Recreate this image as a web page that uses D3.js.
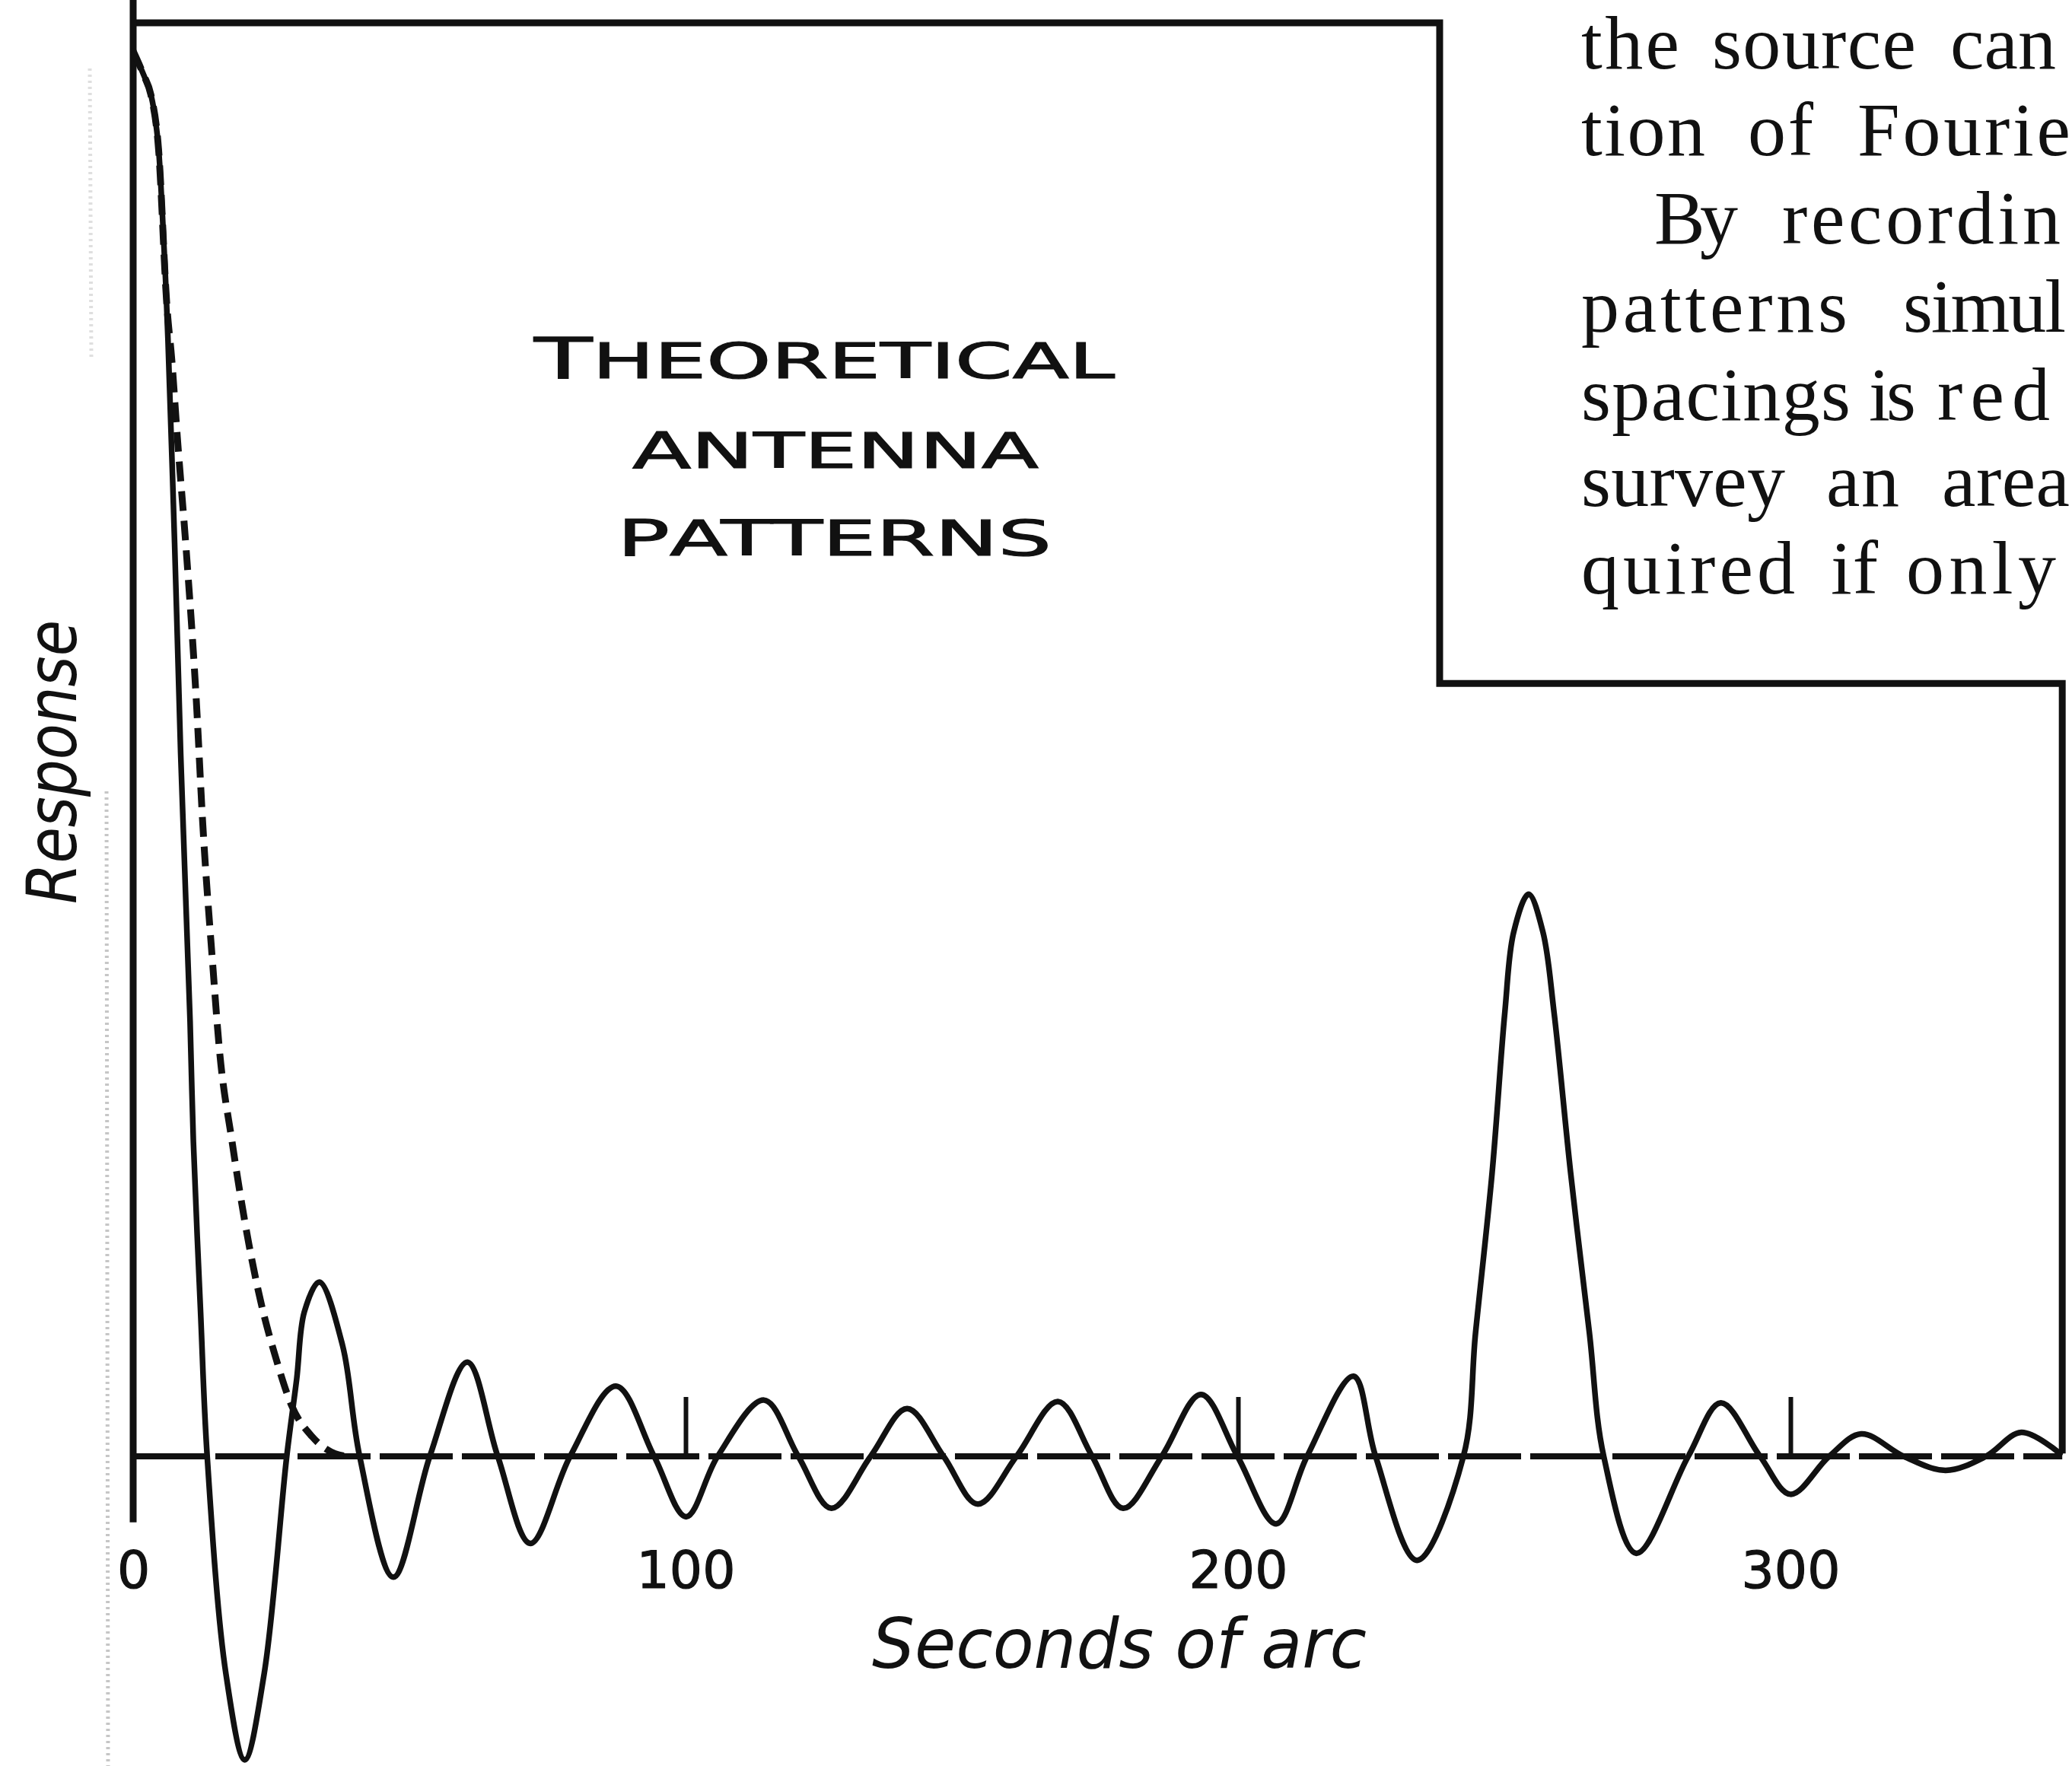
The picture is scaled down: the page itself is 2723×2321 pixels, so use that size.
<!DOCTYPE html>
<html>
<head>
<meta charset="utf-8">
<script src="https://cdn.jsdelivr.net/npm/d3@7"></script>
<style>
    body { margin: 0; background: #fff; }
    svg { display: block; background: #fff; }
    .curve { fill: none; stroke: #111; stroke-width: 7.5; stroke-linejoin: round; stroke-linecap: round; }
    .envelope { fill: none; stroke: #111; stroke-width: 9; stroke-dasharray: 26 13; }
    .frame { fill: none; stroke: #111; stroke-width: 9; }
    .baseline { stroke: #111; stroke-width: 8; stroke-dasharray: 96 12; }
    .ticks line { stroke: #111; stroke-width: 6; }
    .ticks text { fill: #111; stroke: #111; stroke-width: 1.2; font-family: 'DejaVu Sans', sans-serif; font-size: 68px; }
    .title { fill: #111; stroke: #111; stroke-width: 1.2; font-family: 'DejaVu Sans', sans-serif; font-size: 64px; }
    .axisTitle { fill: #111; font-family: 'DejaVu Sans', sans-serif; font-style: italic; font-size: 90px; }
    .para { fill: #111; font-family: 'Liberation Serif', serif; font-size: 100px; }
    .gutter { stroke: #999; stroke-width: 5; stroke-dasharray: 3 5; opacity: 0.55; }
</style>
</head>
<body>
<script>
'use strict';

// Solid curve: theoretical antenna response against seconds of arc
const solidAngle = [
    0, 0.8, 2.0, 3.2, 4.4, 5.2, 5.8, 6.3, 7.5, 8.6, 10.3, 10.9, 12.2, 13.4,
    16.8, 20.2, 23.7, 27.8,
    29.6, 31.0, 33.7, 37.9, 41.0,
    47.1, 53.7, 60.5, 66.0, 71.9, 79.1, 87.4, 94.3, 100.1, 105.8,
    114.2, 120.4, 126.4, 133.5, 140.1, 146.7, 152.9, 159.9,
    167.4, 173.6, 179.2, 186.2, 193.3, 199.9, 206.9, 212.5,
    220.9, 224.9, 232.4, 240.8,
    243.0, 246.0, 248.3, 249.9, 252.6, 255.2, 257.2, 260.2, 263.6, 266.2,
    272.1, 281.5, 287.4, 294.5, 300.0, 307.0, 312.8, 320.5, 328.1, 335.4, 341.8, 348.8
];
const solidResponse = [
    1.0, 0.993, 0.982, 0.969, 0.939, 0.891, 0.843, 0.795, 0.65, 0.50, 0.31, 0.224, 0.103, 0,
    -0.155, -0.216, -0.155, 0,
    0.055, 0.103, 0.124, 0.079, 0,
    -0.086, 0, 0.067, 0, -0.062, 0, 0.050, 0, -0.043, 0,
    0.040, 0, -0.037, 0, 0.034, 0, -0.034, 0,
    0.039, 0, -0.037, 0, 0.044, 0, -0.048, 0,
    0.057, 0, -0.074, 0,
    0.088, 0.202, 0.316, 0.373, 0.400, 0.373, 0.316, 0.202, 0.088, 0,
    -0.069, 0, 0.038, 0, -0.027, 0, 0.016, 0, -0.010, 0, 0.017, 0.002
];

// Dashed curve: the smooth envelope of the main lobe
const dashedAngle = [0, 0.8, 2.0, 3.2, 4.6, 6.1, 7.0, 8.0, 9.6, 11.4, 12.6, 14.4, 15.6, 17.9, 20.9, 23.1, 25.9, 28.7, 32.4, 36.5, 38.8];
const dashedResponse = [1.0, 0.993, 0.982, 0.969, 0.930, 0.819, 0.78, 0.725, 0.645, 0.54, 0.45, 0.35, 0.29, 0.224, 0.152, 0.110, 0.069, 0.036, 0.014, 0.002, 0];

const tickValues = [0, 100, 200, 300];
const titleLines = ['THEORETICAL', 'ANTENNA', 'PATTERNS'];
const xTitle = 'Seconds of arc';
const yTitle = 'Response';

// Running text of the book page beside the figure, as much as the scan shows
const paragraphLines = [
    ['the', 'source', 'can'],
    ['tion', 'of', 'Fourie'],
    ['By', 'recordin'],
    ['patterns', 'simul'],
    ['spacings', 'is', 'red'],
    ['survey', 'an', 'area'],
    ['quired', 'if', 'only']
];

(function () {

    function getPlot() {
        return {
            width: 2723,
            height: 2321,
            x0: 175,          // pixel of 0 seconds of arc
            pxPer100: 726,    // pixels per 100 seconds of arc
            yZero: 1914,      // baseline pixel
            yOne: 67          // pixel of full response
        };
    }

    function makeScales(plot) {
        return {
            x: d3.scaleLinear().domain([0, 100]).range([plot.x0, plot.x0 + plot.pxPer100]),
            y: d3.scaleLinear().domain([0, 1]).range([plot.yZero, plot.yOne])
        };
    }

    /**
     * Stepped outline round the figure, plus the left (zero) line and the baseline.
     * Corners are in data units so they follow the scales.
     */
    function appendFrame(svg, s) {
        const frameAngle = [0, 236.5, 236.5, 349.2, 349.2];
        const frameResponse = [1.02, 1.02, 0.55, 0.55, 0.002];
        const line = d3.line()
            .x((d, i) => s.x(frameAngle[i]))
            .y((d, i) => s.y(frameResponse[i]));
        svg.append('path')
            .attr('class', 'frame')
            .attr('d', line(frameAngle));
        svg.append('line')
            .attr('class', 'frame')
            .attr('x1', s.x(0)).attr('x2', s.x(0))
            .attr('y1', s.y(1.037)).attr('y2', s.y(-0.047));
        svg.append('line')
            .attr('class', 'baseline')
            .attr('x1', s.x(0)).attr('x2', s.x(349.2))
            .attr('y1', s.y(0)).attr('y2', s.y(0));
    }

    function appendTicks(svg, s, plot) {
        const axis = d3.axisBottom(s.x)
            .tickValues(tickValues)
            .tickSize(-78)
            .tickFormat(d3.format('d'));
        const g = svg.append('g')
            .attr('class', 'ticks')
            .attr('transform', 'translate(0,' + plot.yZero + ')')
            .call(axis);
        g.select('.domain').remove();
        g.attr('font-size', null).attr('font-family', null);
        g.selectAll('text').attr('y', 173).attr('dy', 0);
    }

    function appendCurves(svg, s) {
        const solid = d3.line()
            .x((d, i) => s.x(solidAngle[i]))
            .y((d, i) => s.y(solidResponse[i]))
            .curve(d3.curveCatmullRom.alpha(0.5));
        svg.append('path')
            .attr('class', 'curve')
            .attr('d', solid(solidAngle));

        const dashed = d3.line()
            .x((d, i) => s.x(dashedAngle[i]))
            .y((d, i) => s.y(dashedResponse[i]))
            .curve(d3.curveMonotoneX);
        svg.append('path')
            .attr('class', 'envelope')
            .attr('d', dashed(dashedAngle));
    }

    function appendTitles(svg) {
        const layout = [
            { x: 702, y: 497, w: 763 },
            { x: 831, y: 615, w: 534 },
            { x: 811, y: 730, w: 571 }
        ];
        titleLines.forEach((t, i) => {
            const text = svg.append('text')
                .attr('class', 'title')
                .attr('x', layout[i].x)
                .attr('y', layout[i].y)
                .attr('textLength', layout[i].w)
                .attr('lengthAdjust', 'spacingAndGlyphs');
            text.append('tspan').style('font-size', i === 0 ? '74px' : '66px').text(t[0]);
            text.append('tspan').text(t.slice(1));
        });

        svg.append('text')
            .attr('class', 'axisTitle')
            .attr('x', 1146)
            .attr('y', 2192)
            .attr('textLength', 650)
            .attr('lengthAdjust', 'spacingAndGlyphs')
            .text(xTitle);

        svg.append('text')
            .attr('class', 'axisTitle')
            .attr('transform', 'translate(100,1188) rotate(-90)')
            .attr('textLength', 373)
            .attr('lengthAdjust', 'spacingAndGlyphs')
            .text(yTitle);
    }

    /**
     * Book text on the right; each word is placed and spaced out to where the scan has it.
     */
    function appendParagraph(svg) {
        const wordX = [
            [2078, 2250, 2563],
            [2078, 2297, 2441],
            [2174, 2342],
            [2078, 2501],
            [2078, 2456, 2546],
            [2078, 2400, 2552],
            [2078, 2406, 2505]
        ];
        const wordW = [
            [129, 268, 139],
            [163, 86, 280],
            [110, 366],
            [350, 214],
            [354, 62, 148],
            [268, 96, 168],
            [281, 62, 197]
        ];
        const baselines = [90, 204, 320, 436, 552, 665, 780];
        paragraphLines.forEach((words, i) => {
            words.forEach((w, j) => {
                svg.append('text')
                    .attr('class', 'para')
                    .attr('x', wordX[i][j])
                    .attr('y', baselines[i])
                    .attr('textLength', wordW[i][j])
                    .attr('lengthAdjust', 'spacing')
                    .text(w);
            });
        });
    }

    // faint binding shadow along the left edge of the scan
    function appendGutter(svg) {
        svg.append('line').attr('class', 'gutter')
            .attr('x1', 140).attr('x2', 142).attr('y1', 1040).attr('y2', 2321);
        svg.append('line').attr('class', 'gutter')
            .attr('x1', 118).attr('x2', 120).attr('y1', 90).attr('y2', 470)
            .style('opacity', 0.3);
    }

    function draw() {
        const plot = getPlot();
        const svg = d3.select('body').append('svg')
            .attr('width', plot.width)
            .attr('height', plot.height);
        const s = makeScales(plot);
        appendGutter(svg);
        appendFrame(svg, s);
        appendTicks(svg, s, plot);
        appendCurves(svg, s);
        appendTitles(svg);
        appendParagraph(svg);
    }

    draw();

})();
</script>
</body>
</html>
